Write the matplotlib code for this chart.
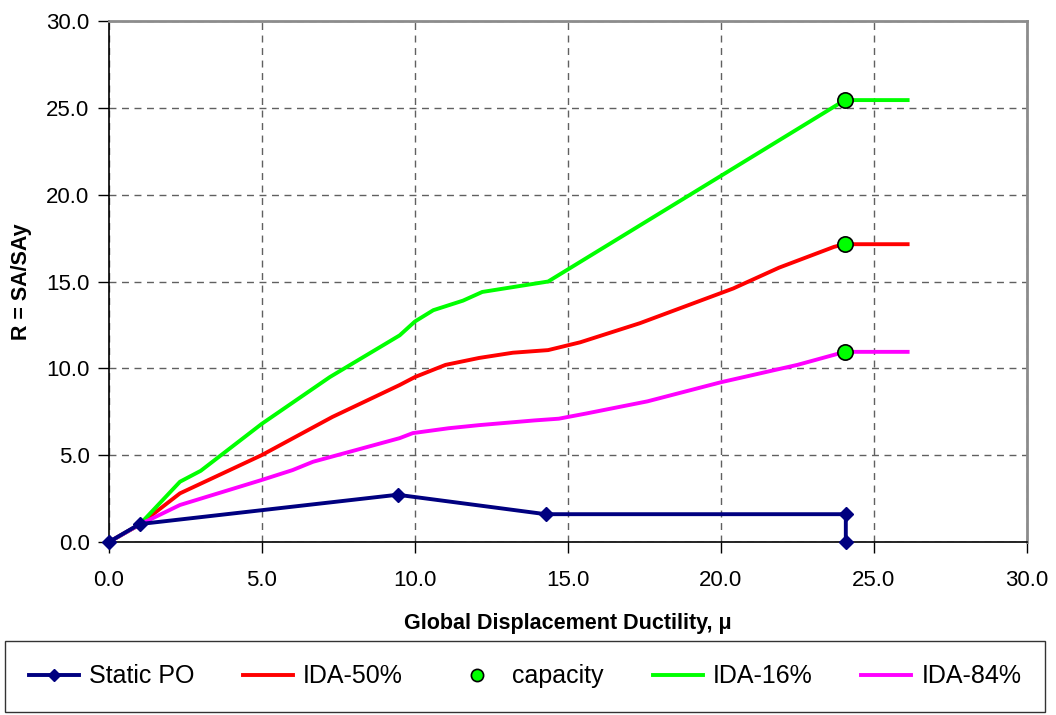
import numpy as np
import matplotlib
matplotlib.use("Agg")
import matplotlib.pyplot as plt

plt.rcParams['font.family'] = ['Liberation Sans', 'DejaVu Sans']

# Static pushover curve
po_mu = [0.0, 1.0, 9.43, 14.27, 24.08, 24.08]
po_r = [0.0, 1.03, 2.72, 1.6, 1.6, 0.0]

# IDA fractile curves
ida50_mu = [0.0, 1.0, 2.32, 4.99, 7.3, 9.5, 10.0, 11.0, 12.1, 13.2, 14.35, 15.4, 17.35, 20.4, 21.9, 23.7, 24.05, 26.1]
ida50_r = [0.0, 1.0, 2.8, 5.0, 7.2, 9.04, 9.5, 10.2, 10.6, 10.9, 11.05, 11.5, 12.6, 14.6, 15.8, 17.0, 17.15, 17.15]

ida16_mu = [0.0, 1.0, 2.32, 3.0, 4.99, 7.22, 9.5, 10.0, 10.6, 11.57, 12.2, 14.35, 24.05, 26.1]
ida16_r = [0.0, 1.0, 3.47, 4.1, 6.8, 9.5, 11.9, 12.7, 13.35, 13.9, 14.4, 15.0, 25.45, 25.45]

ida84_mu = [0.0, 1.0, 2.32, 4.99, 6.0, 6.67, 9.5, 9.93, 11.1, 12.1, 13.9, 14.7, 15.6, 17.6, 20.0, 22.5, 24.05, 26.1]
ida84_r = [0.0, 1.0, 2.13, 3.57, 4.14, 4.62, 5.98, 6.27, 6.55, 6.73, 7.0, 7.1, 7.4, 8.1, 9.2, 10.2, 10.95, 10.95]

# capacity points
cap_mu = [24.05, 24.05, 24.05]
cap_r = [25.45, 17.15, 10.95]

fig = plt.figure(figsize=(10.56, 7.15), dpi=100)
ax = fig.add_axes([0.1032, 0.242, 0.8693, 0.7285])

ax.plot(po_mu, po_r, color='#000080', lw=2.8, marker='D', ms=7.5, label='Static PO',
        zorder=4, clip_on=False)
ax.plot(ida50_mu, ida50_r, color='#FF0000', lw=2.8, label='IDA-50%', zorder=3)
ax.plot(cap_mu, cap_r, ls='none', marker='o', ms=11, mfc='#00FF00', mec='black', mew=1.2,
        label='capacity', zorder=5)
ax.plot(ida16_mu, ida16_r, color='#00FF00', lw=2.8, label='IDA-16%', zorder=3)
ax.plot(ida84_mu, ida84_r, color='#FF00FF', lw=2.8, label='IDA-84%', zorder=3)

ax.set_xlim(0, 30)
ax.set_ylim(0, 30)
ticks = np.arange(0, 31, 5)
ax.set_xticks(ticks)
ax.set_yticks(ticks)
ax.set_xticklabels([f'{t:.1f}' for t in ticks])
ax.set_yticklabels([f'{t:.1f}' for t in ticks])
ax.tick_params(labelsize=16, length=8, width=1, direction='out')
ax.tick_params(axis='x', pad=12)
ax.tick_params(axis='y', pad=6)
ax.grid(True, ls=(0, (5, 4)), color='#606060', lw=1)

for s in ['left', 'bottom']:
    ax.spines[s].set_color('black')
    ax.spines[s].set_linewidth(1.2)
for s in ['top', 'right']:
    ax.spines[s].set_color('#8c8c8c')
    ax.spines[s].set_linewidth(2)

ax.set_xlabel('Global Displacement Ductility, μ', fontsize=15.5, fontweight='bold', labelpad=16)
ax.set_ylabel('R = SA/SAy', fontsize=15.5, fontweight='bold', labelpad=10)

leg = fig.legend(loc='lower left', bbox_to_anchor=(0.0047, 0.004, 0.985, 0.101),
                 mode='expand', ncol=5, fontsize=18, frameon=True, fancybox=False,
                 edgecolor='black', handlelength=2.0, handletextpad=0.4,
                 borderpad=0.95, borderaxespad=0, markerscale=0.8)
leg.get_frame().set_linewidth(1.0)

fig.savefig('out.png', dpi=100)
